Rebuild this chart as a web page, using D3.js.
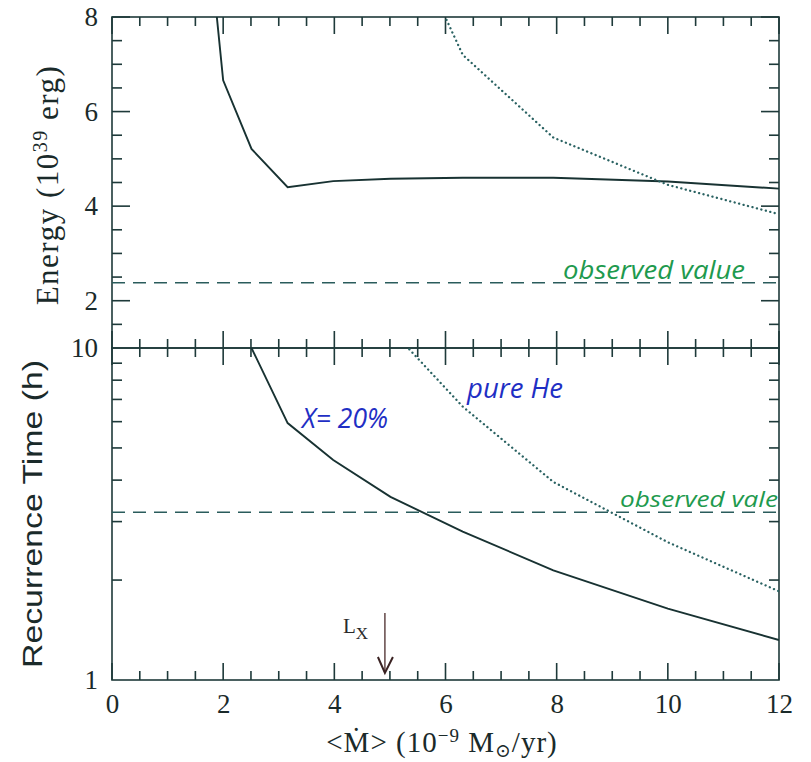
<!DOCTYPE html>
<html>
<head>
<meta charset="utf-8">
<script src="https://cdn.jsdelivr.net/npm/d3@7"></script>
<style>
body { margin: 0; background: #fff; }
</style>
</head>
<body>
<svg width="811" height="762"></svg>
<script>
// accretion rate grid, 10^-9 Msun/yr
var mdotX = [1.58, 2.0, 2.51, 3.16, 3.98, 5.01, 6.31, 7.94, 10.0, 12.0];
var mdotHe = [5.01, 6.31, 7.94, 10.0, 12.0];
var mdotTx = [2.51, 3.16, 3.98, 5.01, 6.31, 7.94, 10.0, 12.0];

// burst energy (10^39 erg)
var energyX = [11.6, 6.66, 5.21, 4.40, 4.53, 4.58, 4.60, 4.60, 4.52, 4.37];
var energyHe = [10.5, 7.2, 5.45, 4.45, 3.83];

// recurrence time (h)
var trecX = [10.0, 5.94, 4.6, 3.56, 2.8, 2.14, 1.64, 1.32];
var trecHe = [11.4, 6.66, 3.95, 2.6, 1.85];

var observedEnergy = 2.38;
var observedTrec = 3.2;
var lxMdot = 4.91;

var xTicks = [0, 2, 4, 6, 8, 10, 12];
var xMinor = [0.5, 1, 1.5, 2.5, 3, 3.5, 4.5, 5, 5.5, 6.5, 7, 7.5, 8.5, 9, 9.5, 10.5, 11, 11.5];
var energyTicks = [2, 4, 6, 8];
var energyMinor = [1.5, 2.5, 3, 3.5, 4.5, 5, 5.5, 6.5, 7, 7.5];
var trecTicks = [1, 10];
var trecMinor = [2, 3, 4, 5, 6, 7, 8, 9];

var svg = d3.select("svg");
var pl = 112, pr = 779, pt = 17, pm = 348, pb = 680;
var ink = "#1e3a3a";
var serif = "'Liberation Serif', 'DejaVu Serif', serif";

var x = d3.scaleLinear().domain([0, 12]).range([pl, pr]);
var yE = d3.scaleLinear().domain([1, 8]).range([pm, pt]);
var yT = d3.scaleLog().domain([1, 10]).range([pb, pm]);

// inward ticks as small filled bars
var tickG = svg.append("g").attr("fill", ink);
function xBars(values, y0, dir, len) {
  tickG.selectAll(null)
    .data(values)
    .enter().append("rect")
      .attr("x", function(d) { return x(d) - 0.8; })
      .attr("y", dir > 0 ? y0 : y0 - len)
      .attr("width", 1.6)
      .attr("height", len);
}
function yBars(scale, values, x0, dir, len) {
  tickG.selectAll(null)
    .data(values)
    .enter().append("rect")
      .attr("y", function(d) { return scale(d) - 0.8; })
      .attr("x", dir > 0 ? x0 : x0 - len)
      .attr("height", 1.6)
      .attr("width", len);
}
xBars(xTicks, pt, 1, 17);
xBars(xMinor, pt, 1, 9);
xBars(xTicks, pm, -1, 17);
xBars(xMinor, pm, -1, 9);
xBars(xTicks, pm, 1, 17);
xBars(xMinor, pm, 1, 9);
xBars(xTicks, pb, -1, 17);
xBars(xMinor, pb, -1, 9);
yBars(yE, energyTicks, pl, 1, 18);
yBars(yE, energyMinor, pl, 1, 10);
yBars(yE, energyTicks, pr, -1, 18);
yBars(yE, energyMinor, pr, -1, 10);
yBars(yT, trecMinor, pl, 1, 10);
yBars(yT, trecMinor, pr, -1, 10);

// clip paths for the two panels
var defs = svg.append("defs");
defs.append("clipPath").attr("id", "clipTop").append("rect")
    .attr("x", pl).attr("y", pt).attr("width", pr - pl).attr("height", pm - pt);
defs.append("clipPath").attr("id", "clipBot").append("rect")
    .attr("x", pl).attr("y", pm).attr("width", pr - pl).attr("height", pb - pm);

// frames
svg.append("rect")
    .attr("x", pl).attr("y", pt).attr("width", pr - pl).attr("height", pm - pt)
    .attr("fill", "none").attr("stroke", ink).attr("stroke-width", 1.6);
svg.append("rect")
    .attr("x", pl).attr("y", pm).attr("width", pr - pl).attr("height", pb - pm)
    .attr("fill", "none").attr("stroke", ink).attr("stroke-width", 1.6);

// tick labels
function labels(axis, tx, ty) {
  var g = svg.append("g")
      .attr("transform", "translate(" + tx + "," + ty + ")")
      .call(axis);
  g.select(".domain").remove();
  g.selectAll("text")
      .attr("font-family", serif).attr("font-size", 27).attr("fill", "#1a2a2a");
}
labels(d3.axisBottom(x).tickValues(xTicks).tickSize(0).tickPadding(14).tickFormat(d3.format("d")), 0, pb);
labels(d3.axisLeft(yE).tickValues(energyTicks).tickSize(0).tickPadding(14).tickFormat(d3.format("d")), pl, 0);
labels(d3.axisLeft(yT).tickValues(trecTicks).tickSize(0).tickPadding(14).tickFormat(d3.format("d")), pl, 0);

// observed values
svg.append("line")
    .attr("x1", pl).attr("x2", pr)
    .attr("y1", yE(observedEnergy)).attr("y2", yE(observedEnergy))
    .attr("stroke", "#2a5c5c").attr("stroke-width", 1.6).attr("stroke-dasharray", "13 8");
svg.append("line")
    .attr("x1", pl).attr("x2", pr)
    .attr("y1", yT(observedTrec)).attr("y2", yT(observedTrec))
    .attr("stroke", "#2a5c5c").attr("stroke-width", 1.6).attr("stroke-dasharray", "13 8");

// model curves
function curve(xs, ys, yScale, clip, dotted) {
  var line = d3.line()
      .x(function(d, i) { return x(xs[i]); })
      .y(function(d) { return yScale(d); });
  var p = svg.append("path")
      .datum(ys)
      .attr("clip-path", "url(#" + clip + ")")
      .attr("fill", "none")
      .attr("d", line);
  if (dotted) {
    p.attr("stroke", "#2a6262").attr("stroke-width", 2.3)
     .attr("stroke-linecap", "round").attr("stroke-dasharray", "0.1 4.5");
  } else {
    p.attr("stroke", "#183232").attr("stroke-width", 1.9);
  }
}
curve(mdotX, energyX, yE, "clipTop", false);
curve(mdotHe, energyHe, yE, "clipTop", true);
curve(mdotTx, trecX, yT, "clipBot", false);
curve(mdotHe, trecHe, yT, "clipBot", true);

// L_X arrow
var ax = x(lxMdot);
svg.append("line")
    .attr("x1", ax).attr("x2", ax).attr("y1", 613).attr("y2", 673)
    .attr("stroke", "#4a2a2a").attr("stroke-width", 1.3);
svg.append("path")
    .attr("d", "M" + (ax - 7) + ",657 L" + ax + ",673 L" + (ax + 8) + ",657")
    .attr("fill", "none").attr("stroke", "#3a2222").attr("stroke-width", 2);
var lx = svg.append("text")
    .attr("x", 343).attr("y", 633)
    .attr("font-family", serif).attr("font-size", 21).attr("fill", "#2a2a2a");
lx.append("tspan").text("L");
lx.append("tspan").attr("dy", 6).attr("font-size", 17).text("X");

// handwritten notes
var hand = "'Open Sans', 'DejaVu Sans', sans-serif";
function note(txt, tx, ty, len, size, color) {
  svg.append("text")
      .attr("x", tx).attr("y", ty)
      .attr("font-family", hand).attr("font-style", "italic")
      .attr("font-size", size).attr("fill", color)
      .attr("textLength", len).attr("lengthAdjust", "spacingAndGlyphs")
      .text(txt);
}
note("observed value", 563, 279, 182, 25, "#1e9a4e");
note("observed vale", 620, 507, 158, 22, "#1e9a4e");
note("X= 20%", 302, 428, 86, 28, "#1f2fc4");
note("pure He", 467, 398, 96, 27, "#1f2fc4");

// axis titles
var t1 = svg.append("text")
    .attr("transform", "translate(58,185) rotate(-90)")
    .attr("text-anchor", "middle")
    .attr("font-family", serif).attr("font-size", 31).attr("fill", "#1a2a2a")
    .attr("letter-spacing", 1.5);
t1.append("tspan").text("Energy  (10");
t1.append("tspan").attr("dy", -11).attr("font-size", 20).text("39");
t1.append("tspan").attr("dy", 11).text(" erg)");

svg.append("text")
    .attr("transform", "translate(42,514) rotate(-90)")
    .attr("text-anchor", "middle")
    .attr("font-family", "'Liberation Sans', 'DejaVu Sans', sans-serif")
    .attr("font-size", 27).attr("fill", "#1a2a2a")
    .attr("textLength", 308).attr("lengthAdjust", "spacingAndGlyphs")
    .text("Recurrence Time (h)");

var t3 = svg.append("text")
    .attr("x", 442).attr("y", 752)
    .attr("text-anchor", "middle")
    .attr("font-family", serif).attr("font-size", 29).attr("fill", "#1a2a2a")
    .attr("letter-spacing", 1);
t3.append("tspan").text("<\u1E40>  (10");
t3.append("tspan").attr("dy", -10).attr("font-size", 19).text("\u22129");
t3.append("tspan").attr("dy", 10).text("  M");
t3.append("tspan").attr("dy", 5).attr("font-size", 19).text("\u2299");
t3.append("tspan").attr("dy", -5).text("/yr)");
</script>
</body>
</html>
